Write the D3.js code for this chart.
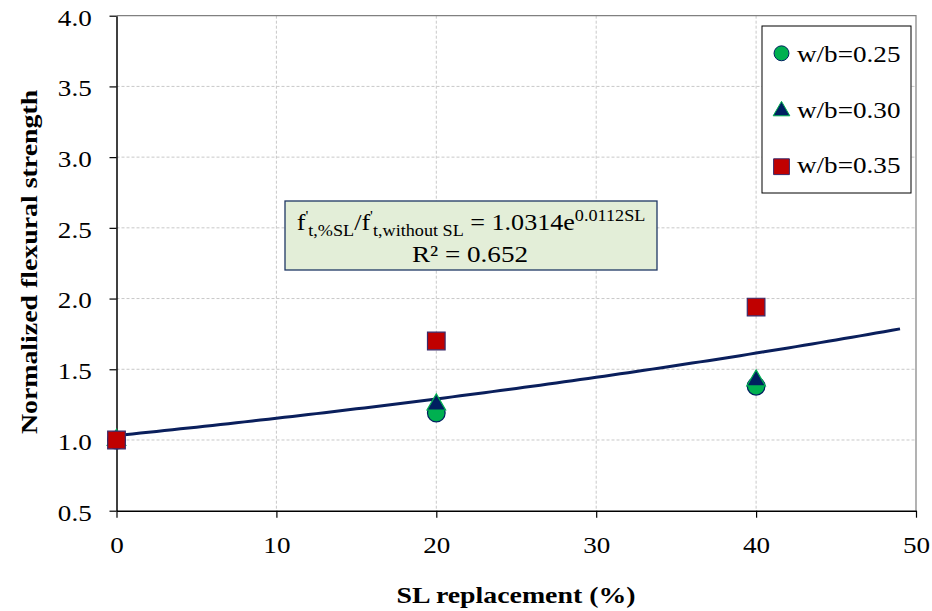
<!DOCTYPE html>
<html><head><meta charset="utf-8">
<script src="https://cdn.jsdelivr.net/npm/d3@7"></script>
<style>body{margin:0;background:#fff}svg{display:block}svg text{font-family:"Liberation Serif","Times New Roman","DejaVu Serif",serif}</style>
</head><body>
<script>
const xTicks = [0, 10, 20, 30, 40, 50];
const yTicks = [0.5, 1.0, 1.5, 2.0, 2.5, 3.0, 3.5, 4.0];
const seriesNames = ["w/b=0.25", "w/b=0.30", "w/b=0.35"];
const slValues = [0, 20, 40];
const wb025 = [1.0, 1.19, 1.38];
const wb030 = [1.0, 1.25, 1.42];
const wb035 = [1.0, 1.70, 1.94];
const trendA = 1.0314, trendB = 0.0112, trendXMax = 49;

const W = 932, H = 611, SX = 1.18;
const m = {l: 116.5, r: 916, t: 15.7, b: 510.7};
const svg = d3.select("body").append("svg").attr("width", W).attr("height", H);
const x = d3.scaleLinear().domain([0, 50]).range([m.l, m.r]);
const y = d3.scaleLinear().domain([0.5, 4.0]).range([m.b, m.t]);

// grid
svg.append("g").selectAll("line").data(xTicks.slice(1, -1)).join("line")
  .attr("x1", d => x(d)).attr("x2", d => x(d)).attr("y1", m.t).attr("y2", m.b)
  .attr("stroke", "#c8c8c8").attr("stroke-dasharray", "3,2").attr("stroke-width", 1);
svg.append("g").selectAll("line").data(yTicks.slice(1, -1)).join("line")
  .attr("x1", m.l).attr("x2", m.r).attr("y1", d => y(d)).attr("y2", d => y(d))
  .attr("stroke", "#c8c8c8").attr("stroke-dasharray", "3,2").attr("stroke-width", 1);
svg.append("path").attr("d", `M${m.l},${m.t}H${m.r}V${m.b}`).attr("fill", "none").attr("stroke", "#808080").attr("stroke-width", 1.2);

// axes
const xa = svg.append("g").attr("transform", `translate(0,${m.b})`)
  .call(d3.axisBottom(x).tickValues(xTicks).tickSize(7).tickSizeOuter(0).tickFormat(d3.format("d")));
const ya = svg.append("g").attr("transform", `translate(${m.l},0)`)
  .call(d3.axisLeft(y).tickValues(yTicks).tickSize(7).tickSizeOuter(0).tickFormat(d3.format(".1f")));
[xa, ya].forEach(a => {
  a.attr("font-family", null);
  a.select(".domain").attr("stroke", "#000").attr("stroke-width", 1.5);
  a.selectAll(".tick line").attr("stroke", "#000").attr("stroke-width", 1.2);
  a.selectAll("text").attr("font-size", 23).attr("fill", "#000");
});
ya.selectAll("text").attr("x", -21).attr("y", 9.3).attr("dy", 0).attr("transform", `scale(${SX},1)`);
xa.selectAll("text").attr("x", 0).attr("y", 42.3).attr("dy", 0).attr("transform", `scale(${SX},1)`);

// titles
svg.append("text").attr("transform", `translate(516,603) scale(1.16,1)`).attr("text-anchor", "middle")
  .attr("font-weight", "bold").attr("font-size", 24).text("SL replacement (%)");
svg.append("text").attr("transform", `translate(37,262) rotate(-90) scale(1.16,1)`).attr("text-anchor", "middle")
  .attr("font-weight", "bold").attr("font-size", 24).text("Normalized flexural strength");

// trendline
const trendXs = d3.range(0, trendXMax + 0.001, 0.5);
svg.append("path").datum(trendXs)
  .attr("d", d3.line().x(d => x(d)).y(d => y(trendA * Math.exp(trendB * d))))
  .attr("fill", "none").attr("stroke", "#0a1f5c").attr("stroke-width", 3);

// markers
const sym = [
  {type: d3.symbolCircle, size: 245, fill: "#00B050", stroke: "#002060"},
  {type: d3.symbolTriangle, size: 150, fill: "#002060", stroke: "#00B050"},
  {type: d3.symbolSquare, size: 310, fill: "#C00000", stroke: "#3a2a6a"}
];
const allSeries = [wb025, wb030, wb035];
allSeries.forEach((vals, i) => {
  svg.append("g").selectAll("path").data(vals).join("path")
    .attr("transform", (d, j) => `translate(${x(slValues[j])},${y(d)})`)
    .attr("d", d3.symbol().type(sym[i].type).size(sym[i].size))
    .attr("fill", sym[i].fill).attr("stroke", sym[i].stroke).attr("stroke-width", 1.2);
});

// equation box
const eq = svg.append("g");
eq.append("rect").attr("x", 285).attr("y", 201).attr("width", 372).attr("height", 69)
  .attr("fill", "#E3EED8").attr("stroke", "#1F3864").attr("stroke-width", 1.3);
const t1 = eq.append("text").attr("transform", `translate(471,230) scale(1.135,1)`).attr("text-anchor", "middle").attr("font-size", 23);
t1.append("tspan").text("f");
t1.append("tspan").attr("font-size", 14).attr("dy", -9).text("'");
t1.append("tspan").attr("font-size", 16).attr("dy", 15).text("t,%SL");
t1.append("tspan").attr("dy", -6).text("/f");
t1.append("tspan").attr("font-size", 14).attr("dy", -9).text("'");
t1.append("tspan").attr("font-size", 16).attr("dy", 15).text("t,without SL");
t1.append("tspan").attr("dy", -6).text(" = 1.0314e");
t1.append("tspan").attr("font-size", 16).attr("dy", -9).text("0.0112SL");
eq.append("text").attr("transform", `translate(470,262) scale(${SX},1)`).attr("text-anchor", "middle").attr("font-size", 23).text("R² = 0.652");

// legend
const lg = svg.append("g");
lg.append("rect").attr("x", 762).attr("y", 26).attr("width", 149).attr("height", 167)
  .attr("fill", "#fff").attr("stroke", "#000").attr("stroke-width", 1);
const legY = [62, 118, 173];
const legMarkY = [53.3, 111, 166.7];
seriesNames.forEach((n, i) => {
  const sz = [175, 120, 250][i];
  lg.append("path").attr("transform", `translate(781.5,${legMarkY[i]})`)
    .attr("d", d3.symbol().type(sym[i].type).size(sz))
    .attr("fill", sym[i].fill).attr("stroke", sym[i].stroke).attr("stroke-width", 1);
  lg.append("text").attr("transform", `translate(797,${legY[i]}) scale(${SX},1)`).attr("font-size", 23).text(n);
});
</script>
</body></html>
